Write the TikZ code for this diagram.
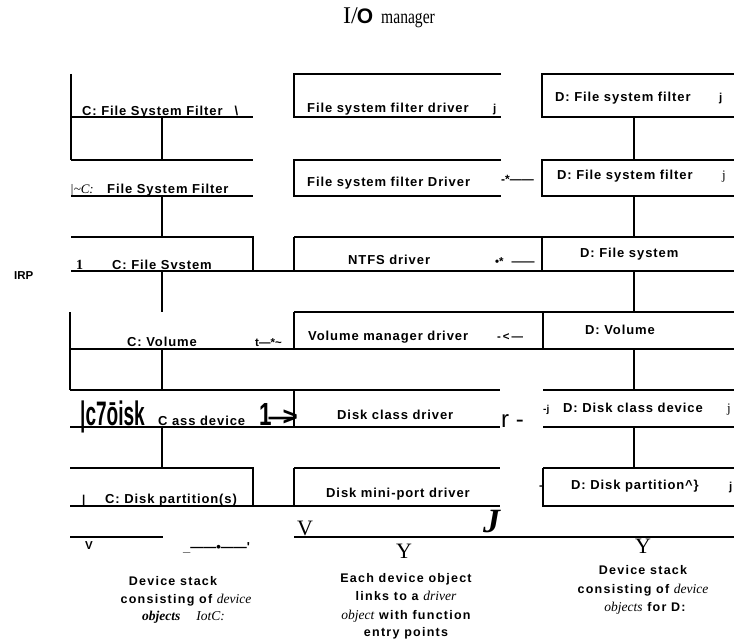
\documentclass[tikz,border=0pt]{standalone}
\usepackage{fontspec}
\usepackage{graphicx}
\setmainfont{Liberation Serif}
\setsansfont{Liberation Sans}
\newfontfamily\labf[LetterSpace=7]{Liberation Sans}
\newfontfamily\captf[LetterSpace=10]{Liberation Sans}
\newfontfamily\plainsans{Liberation Sans}
\newcommand{\serit}[1]{{\rmfamily\itshape\mdseries\fontsize{13.5}{14}\selectfont #1}}
\tikzset{
  ln/.style={line width=1.3pt},
  lbl/.style={anchor=base west, inner sep=0pt, font=\labf\bfseries\fontsize{13}{15}\selectfont},
  sm/.style={anchor=base west, inner sep=0pt, font=\plainsans\bfseries\fontsize{11.5}{13}\selectfont},
  thin/.style={anchor=base west, inner sep=0pt, font=\rmfamily\fontsize{13}{14}\selectfont},
  big/.style={anchor=base west, inner sep=0pt, font=\rmfamily\fontsize{22}{24}\selectfont},
  capt/.style={anchor=base, inner sep=0pt, font=\captf\bfseries\fontsize{12.5}{14}\selectfont},
}
\begin{document}
\begin{tikzpicture}[x=1pt,y=-1pt]
\useasboundingbox (0,0) rectangle (734,642);
% ---------- lines: left column
\draw[ln] (71,74) -- (71,160);
\draw[ln] (71,117) -- (253,117);
\draw[ln] (162,117) -- (162,160);
\draw[ln] (71,160) -- (253,160);
\draw[ln] (71,196) -- (253,196);
\draw[ln] (162,196) -- (162,237);
\draw[ln] (71,237) -- (253,237) -- (253,271);
\draw[ln] (71,271) -- (734,271);
\draw[ln] (162,271) -- (162,312);
\draw[ln] (70,312) -- (70,390);
\draw[ln] (70,349) -- (734,349);
\draw[ln] (162,349) -- (162,390);
\draw[ln] (70,390) -- (500,390);
\draw[ln] (543,390) -- (734,390);
\draw[ln] (70,427) -- (500,427);
\draw[ln] (543,427) -- (734,427);
\draw[ln] (162,427) -- (162,468);
\draw[ln] (70,468) -- (253,468) -- (253,506);
\draw[ln] (70,506) -- (500,506);
\draw[ln] (543,506) -- (734,506);
\draw[ln] (70,537) -- (163,537);
\draw[ln] (294,537) -- (734,537);
% ---------- middle column
\draw[ln] (501,74) -- (294,74) -- (294,117) -- (501,117);
\draw[ln] (501,160) -- (294,160) -- (294,196) -- (501,196);
\draw[ln] (294,237) -- (734,237);
\draw[ln] (294,237) -- (294,271);
\draw[ln] (294,312) -- (734,312);
\draw[ln] (294,312) -- (294,349);
\draw[ln] (294,390) -- (294,427);
\draw[ln] (294,468) -- (500,468);
\draw[ln] (294,468) -- (294,507);
% ---------- right column
\draw[ln] (734,74) -- (542,74) -- (542,117) -- (734,117);
\draw[ln] (634,117) -- (634,160);
\draw[ln] (734,160) -- (542,160) -- (542,196) -- (734,196);
\draw[ln] (634,196) -- (634,237);
\draw[ln] (542,237) -- (542,271);
\draw[ln] (634,271) -- (634,312);
\draw[ln] (543,312) -- (543,349);
\draw[ln] (634,349) -- (634,390);
\draw[ln] (634,427) -- (634,468);
\draw[ln] (543,468) -- (734,468);
\draw[ln] (543,468) -- (543,507);
% ---------- title
\node[anchor=base west, inner sep=0pt, font=\rmfamily\fontsize{24}{24}\selectfont] (io) at (343,24) {I/\kern-1pt{\plainsans\bfseries\fontsize{21}{21}\selectfont O}};
\node[anchor=base west, inner sep=0pt, font=\rmfamily\fontsize{20}{20}\selectfont] (mgr) at (381,24) {\scalebox{0.78}[1]{manager}};
\node[sm] (irp) at (14,279) {IRP};
% ---------- left column texts
\node[lbl] (c1) at (82,115) {C: File System Filter\hspace{12pt}\textbackslash};
\node[anchor=base west, inner sep=0pt, font=\rmfamily\itshape\fontsize{13}{14}\selectfont] (c2a) at (70,193) {|\textasciitilde C:};
\node[lbl] (c2) at (107,193) {File System Filter};
\node[anchor=base west, inner sep=0pt, font=\rmfamily\bfseries\fontsize{14}{14}\selectfont] (c3a) at (76,269) {1};
\node[lbl] (c3) at (112,269) {C: File Svstem};
\node[lbl] (c4) at (127,346) {C: Volume};
\node[sm] (c4b) at (255,346) {t—*\textasciitilde};
\node[anchor=base west, inner sep=0pt, font=\plainsans\bfseries\fontsize{34}{34}\selectfont] (c5a) at (80,425) {\scalebox{0.56}[1]{|c7ōisk}};
\node[lbl] (c5) at (158,425) {C ass device};
\node[anchor=base west, inner sep=0pt, font=\plainsans\bfseries\fontsize{32}{32}\selectfont] (c5b) at (259,425) {\scalebox{0.7}[1]{1}\kern-3pt{\fontsize{26}{26}\selectfont —\kern-12pt>}};
\node[sm] (c6a) at (82,503) {|};
\node[lbl] (c6) at (105,503) {C: Disk partition(s)};
\node[sm] (c7) at (85,549) {V};
\node[sm, font=\plainsans\bfseries\fontsize{13}{14}\selectfont] (c7b) at (183,551) {\_——•——'};
% ---------- middle column texts
\node[lbl] (m1) at (307,113) {File system filter driver};
\node[sm] (m1j) at (493,113) {j};
\node[lbl] (m2) at (307,186) {File system filter Driver};
\node[sm, font=\plainsans\bfseries\fontsize{12}{14}\selectfont] (m2b) at (501,183) {-*——};
\node[lbl] (m3) at (348,264) {NTFS driver};
\node[sm] (m3b) at (495,265) {•*\hspace{8pt}——};
\node[lbl] (m4) at (308,340) {Volume manager driver};
\node[sm] (m4b) at (497,340) {-\,<\,—};
\node[lbl] (m5) at (337,419) {Disk class driver};
\node[anchor=base west, inner sep=0pt, font=\plainsans\fontsize{24}{24}\selectfont] (m5b) at (501,427) {r -};
\node[lbl] (m6) at (326,497) {Disk mini-port driver};
\node[big] (m7a) at (297,535) {V};
\node[anchor=base west, inner sep=0pt, font=\rmfamily\bfseries\itshape\fontsize{34}{34}\selectfont] (m7b) at (483,532) {J};
\node[big, anchor=base] (m8) at (404,558) {Y};
\node[capt] (m9) at (406,582) {Each device object};
\node[capt] (m10) at (406,600) {links to a \serit{driver}};
\node[capt] (m11) at (406,619) {\serit{object} with function};
\node[capt] (m12) at (406,636) {entry points};
% ---------- left captions
\node[capt] (l1) at (173,585) {Device stack};
\node[capt] (l2) at (186,603) {consisting of \serit{device}};
\node[anchor=base west, inner sep=0pt, font=\rmfamily\itshape\fontsize{13.5}{14}\selectfont] (l3) at (142,620) {\textbf{objects}\hspace{16pt}IotC:};
% ---------- right column texts
\node[lbl] (r1) at (555,101) {D: File system filter};
\node[sm] (r1j) at (719,101) {j};
\node[lbl] (r2) at (557,179) {D: File system filter};
\node[thin] (r2j) at (722,179) {j};
\node[lbl] (r3) at (580,257) {D: File system};
\node[lbl] (r4) at (585,334) {D: Volume};
\node[sm, font=\plainsans\bfseries\fontsize{10}{12}\selectfont] (r5a) at (543,412) {-j};
\node[lbl] (r5) at (563,412) {D: Disk class device};
\node[thin] (r5j) at (727,412) {j};
\node[sm] (r6a) at (539,489) {-};
\node[lbl] (r6) at (571,489) {D: Disk partition\textasciicircum\}};
\node[sm] (r6j) at (729,490) {j};
\node[big, anchor=base] (r7) at (643,553) {Y};
\node[capt] (r8) at (643,574) {Device stack};
\node[capt] (r9) at (643,593) {consisting of \serit{device}};
\node[capt] (r10) at (645,611) {\serit{objects} for D:};
\end{tikzpicture}
\end{document}
